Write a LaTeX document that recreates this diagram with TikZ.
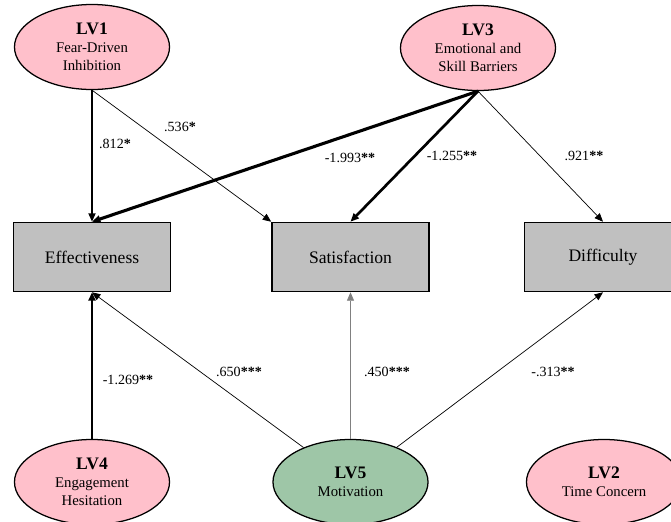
\documentclass[tikz,border=0pt]{standalone}
\usepackage{fontspec}
\setmainfont{Liberation Serif}
\usepackage{tikz}
\usetikzlibrary{arrows.meta, positioning, shapes.geometric}

\definecolor{lvpink}{RGB}{255,192,203}
\definecolor{lvgreen}{RGB}{158,198,167}
\definecolor{boxgray}{RGB}{192,192,192}

\newcommand{\lvtitle}[1]{{\fontsize{12.5}{14}\selectfont\bfseries #1}}

\begin{document}
\begin{tikzpicture}[
  x=0.025cm, y=-0.025cm,
  latent/.style={ellipse, draw, line width=0.9pt, minimum width=3.875cm,
    minimum height=2.125cm, inner sep=0pt, align=center,
    font=\fontsize{10.5}{12.8}\selectfont},
  outcome/.style={rectangle, draw, line width=1.1pt, fill=boxgray,
    minimum width=3.925cm, minimum height=1.725cm, inner sep=0pt,
    font=\fontsize{12.5}{14}\selectfont},
  path/.style={-{Triangle[length=6pt, width=5pt]}},
  coef/.style={font=\fontsize{10}{12}\selectfont, inner sep=1pt}
]
\path[use as bounding box] (0,0) rectangle (671,521);
\clip (0,0) rectangle (671,521);

% latent variables
\node[latent, fill=lvpink] (lv1) at (92,47)  {\lvtitle{LV1}\\Fear-Driven\\Inhibition};
\node[latent, fill=lvpink] (lv3) at (478,48) {\lvtitle{LV3}\\Emotional and\\Skill Barriers};
\node[latent, fill=lvpink] (lv4) at (92,482)  {\lvtitle{LV4}\\Engagement\\Hesitation};
\node[latent, fill=lvgreen] (lv5) at (350.5,482) {\lvtitle{LV5}\\Motivation};
\node[latent, fill=lvpink] (lv2) at (604,482) {\lvtitle{LV2}\\Time Concern};

% outcomes
\node[outcome] (eff) at (92,257)    {Effectiveness};
\node[outcome] (sat) at (350.5,257) {Satisfaction};
\node[outcome] (dif) at (603,257)   {Difficulty};

% paths
\draw[path, line width=1.2pt] (lv1.south) -- (eff.north);
\draw[path, line width=0.5pt] (lv1.south) -- (sat.north west);
\draw[path, line width=2.2pt] (lv3.south) -- (eff.north);
\draw[path, line width=1.9pt] (lv3.south) -- (sat.north);
\draw[path, line width=0.5pt] (lv3.south) -- (dif.north);
\draw[path, line width=2pt]   (lv4.north) -- (eff.south);
\draw[path, line width=0.5pt] (lv5) -- (eff.south);
\draw[path, line width=0.5pt, gray] (lv5.north) -- (sat.south);
\draw[path, line width=0.5pt] (lv5) -- (dif.south);

% coefficients
\node[coef] (c1) at (115,144) {.812\textbf{*}};
\node[coef] (c2) at (180,127) {.536\textbf{*}};
\node[coef] (c3) at (350,158) {-1.993\textbf{**}};
\node[coef] (c4) at (452,156) {-1.255\textbf{**}};
\node[coef] (c5) at (584,156) {.921\textbf{**}};
\node[coef] (c6) at (128,380) {-1.269\textbf{**}};
\node[coef] (c7) at (239,372) {.650\textbf{***}};
\node[coef] (c8) at (387,372) {.450\textbf{***}};
\node[coef] (c9) at (553,372) {-.313\textbf{**}};
\end{tikzpicture}
\end{document}
